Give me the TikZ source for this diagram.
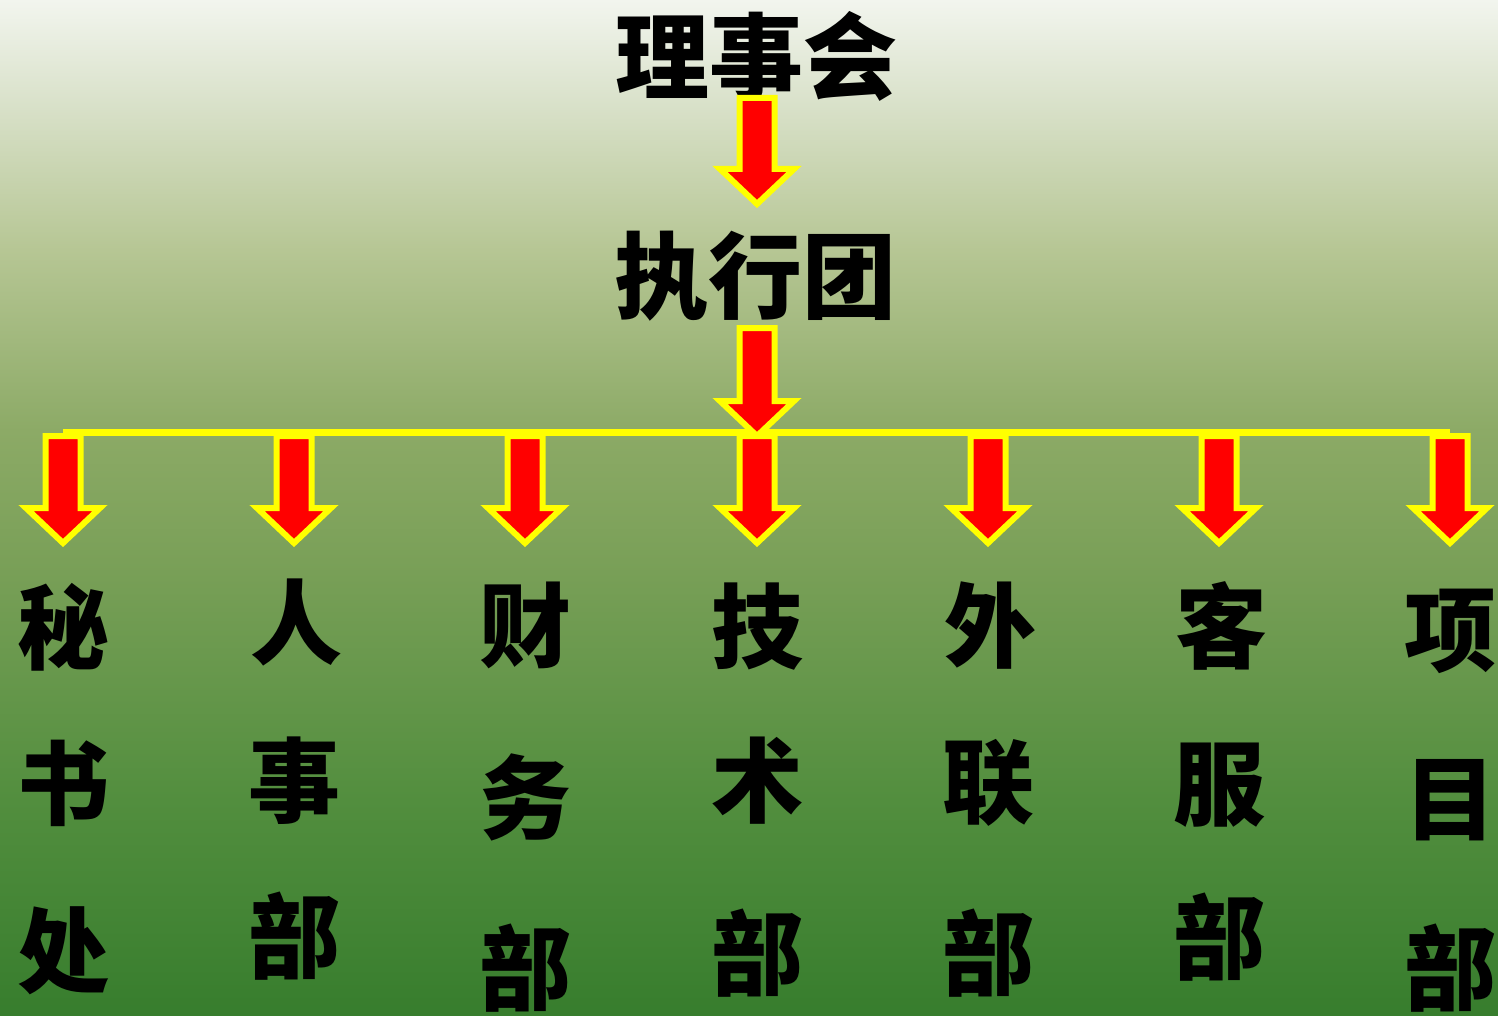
\documentclass[tikz,border=0pt]{standalone}
\usepackage{fontspec}
\newfontfamily\cjk{Noto Sans CJK SC}
\usetikzlibrary{calc}
\definecolor{bgA}{RGB}{55,125,45}
\definecolor{bgB}{RGB}{82,142,62}
\definecolor{bgC}{RGB}{122,160,88}
\definecolor{bgD}{RGB}{140,170,102}
\definecolor{bgE}{RGB}{182,198,148}
\definecolor{bgF}{RGB}{218,226,203}
\definecolor{bgG}{RGB}{242,245,238}
\definecolor{arrred}{RGB}{255,0,0}
\definecolor{arryel}{RGB}{255,255,0}
\pgfdeclareverticalshading{bgshade}{100bp}{color(0bp)=(bgA); color(25bp)=(bgA); color(35.6bp)=(bgB); color(47.4bp)=(bgC); color(53.8bp)=(bgD); color(62.7bp)=(bgE); color(70.1bp)=(bgF); color(75bp)=(bgG); color(100bp)=(bgG)}
\tikzset{
  title/.style={font=\cjk\bfseries\fontsize{94}{94}\selectfont, inner sep=0pt, text height=82.7pt, text depth=11.3pt},
  dept/.style={font=\cjk\bfseries\fontsize{92}{92}\selectfont, inner sep=0pt, text height=81pt, text depth=11pt},
  barrow/.style={fill=arrred, draw=arryel, line width=6pt, line join=miter},
  hbar/.style={draw=arryel, line width=7pt}
}
\newcommand{\blockarr}[2]{%
  \draw[barrow] let \p1=(#1), \p2=(#2) in
    (\x1-17.5pt,\y1) -- (\x1+17.5pt,\y1) -- (\x1+17.5pt,\y2+35pt) -- (\x1+37pt,\y2+35pt)
    -- (\x2,\y2) -- (\x1-37pt,\y2+35pt) -- (\x1-17.5pt,\y2+35pt) -- cycle;}
\begin{document}
\begin{tikzpicture}[x=1pt,y=-1pt]
\useasboundingbox (0,0) rectangle (1498,1016);
\shade[shading=bgshade] (0,0) rectangle (1498,1016);

% titles
\node[title] (lsh) at (756,57) {理事会};
\node[title] (zxt) at (755,276) {执行团};

% connector coordinates
\coordinate (a1t) at (757,98);
\coordinate (a1b) at (757,204);
\coordinate (a2t) at (757,328);
\coordinate (a2b) at (757,436);
\coordinate (hl) at (63,432);
\coordinate (hr) at (1450,432);

\draw[hbar] (hl) -- (hr);
\blockarr{a1t}{a1b}
\blockarr{a2t}{a2b}

% department arrows
\foreach \i/\x in {1/63,2/294,3/525,4/757,5/988,6/1219,7/1450}{
  \coordinate (d\i t) at (\x,436);
  \coordinate (d\i b) at (\x,543);
  \blockarr{d\i t}{d\i b}
}

% departments
\node[dept] (c1a) at (63,627) {秘};
\node[dept] (c1b) at (63,783) {书};
\node[dept] (c1c) at (63,950) {处};
\node[dept] (c2a) at (296,622) {人};
\node[dept] (c2b) at (294,780) {事};
\node[dept] (c2c) at (294,936) {部};
\node[dept] (c3a) at (525,625) {财};
\node[dept] (c3b) at (525,797) {务};
\node[dept] (c3c) at (525,968) {部};
\node[dept] (c4a) at (757,626) {技};
\node[dept] (c4b) at (757,780) {术};
\node[dept] (c4c) at (757,953) {部};
\node[dept] (c5a) at (990,625) {外};
\node[dept] (c5b) at (988,781) {联};
\node[dept] (c5c) at (988,953) {部};
\node[dept] (c6a) at (1221,626) {客};
\node[dept] (c6b) at (1219,783) {服};
\node[dept] (c6c) at (1219,937) {部};
\node[dept] (c7a) at (1450,629) {项};
\node[dept] (c7b) at (1450,798) {目};
\node[dept] (c7c) at (1450,968) {部};
\end{tikzpicture}
\end{document}
